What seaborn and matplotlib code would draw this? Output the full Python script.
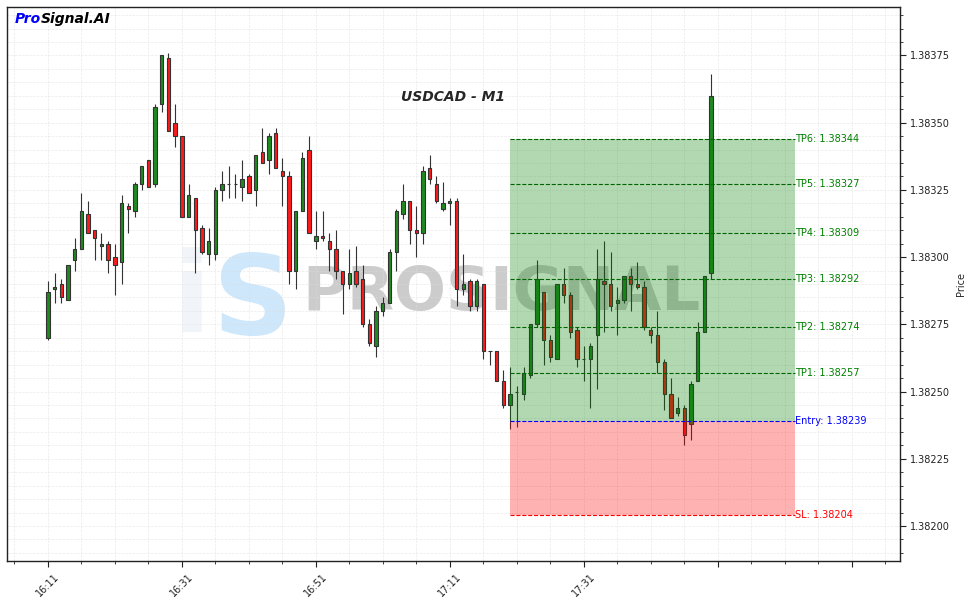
import numpy as np
import pandas as pd
import matplotlib
matplotlib.use('Agg')
import matplotlib.pyplot as plt
from matplotlib.ticker import MultipleLocator, FuncFormatter, FormatStrFormatter
import seaborn as sns

sns.set_style('white')
plt.rcParams['font.family'] = ['DejaVu Sans']

# ──────────────────────────────────────────────────────────────────────
# Data (USDCAD M1, 100 candles from 16:11)
# ──────────────────────────────────────────────────────────────────────

start_time = '16:11'

opens = [
    1.38270, 1.38288, 1.38290, 1.38284, 1.38299, 1.38303, 1.38316, 1.38310, 1.38304, 1.38305,
    1.38300, 1.38298, 1.38319, 1.38317, 1.38327, 1.38336, 1.38327, 1.38357, 1.38374, 1.38350,
    1.38345, 1.38315, 1.38322, 1.38311, 1.38301, 1.38301, 1.38325, 1.38327, 1.38327, 1.38326,
    1.38330, 1.38325, 1.38339, 1.38336, 1.38346, 1.38332, 1.38330, 1.38295, 1.38317, 1.38340,
    1.38306, 1.38308, 1.38306, 1.38303, 1.38295, 1.38290, 1.38295, 1.38292, 1.38275, 1.38267,
    1.38280, 1.38283, 1.38302, 1.38316, 1.38321, 1.38310, 1.38309, 1.38333, 1.38327, 1.38318,
    1.38320, 1.38321, 1.38288, 1.38291, 1.38282, 1.38290, 1.38265, 1.38265, 1.38254, 1.38245,
    1.38250, 1.38249, 1.38256, 1.38275, 1.38287, 1.38269, 1.38262, 1.38290, 1.38286, 1.38273,
    1.38262, 1.38262, 1.38271, 1.38291, 1.38290, 1.38283, 1.38284, 1.38293, 1.38290, 1.38289,
    1.38273, 1.38271, 1.38261, 1.38249, 1.38242, 1.38244, 1.38238, 1.38254, 1.38272, 1.38294,
]
highs = [
    1.38291, 1.38294, 1.38292, 1.38297, 1.38307, 1.38324, 1.38321, 1.38310, 1.38309, 1.38306,
    1.38305, 1.38323, 1.38320, 1.38328, 1.38334, 1.38336, 1.38357, 1.38375, 1.38376, 1.38357,
    1.38345, 1.38327, 1.38322, 1.38312, 1.38311, 1.38326, 1.38332, 1.38334, 1.38331, 1.38336,
    1.38331, 1.38338, 1.38348, 1.38346, 1.38348, 1.38337, 1.38332, 1.38317, 1.38339, 1.38345,
    1.38317, 1.38317, 1.38309, 1.38310, 1.38295, 1.38303, 1.38304, 1.38297, 1.38277, 1.38282,
    1.38285, 1.38303, 1.38318, 1.38327, 1.38321, 1.38319, 1.38334, 1.38338, 1.38330, 1.38328,
    1.38322, 1.38322, 1.38301, 1.38292, 1.38292, 1.38290, 1.38265, 1.38265, 1.38258, 1.38259,
    1.38252, 1.38259, 1.38275, 1.38299, 1.38287, 1.38271, 1.38290, 1.38296, 1.38287, 1.38274,
    1.38267, 1.38268, 1.38303, 1.38306, 1.38302, 1.38289, 1.38293, 1.38296, 1.38298, 1.38291,
    1.38274, 1.38280, 1.38262, 1.38255, 1.38248, 1.38245, 1.38254, 1.38276, 1.38293, 1.38368,
]
lows = [
    1.38269, 1.38283, 1.38283, 1.38284, 1.38295, 1.38303, 1.38309, 1.38299, 1.38299, 1.38294,
    1.38286, 1.38290, 1.38309, 1.38315, 1.38325, 1.38326, 1.38326, 1.38354, 1.38347, 1.38341,
    1.38315, 1.38315, 1.38294, 1.38301, 1.38297, 1.38299, 1.38321, 1.38322, 1.38322, 1.38321,
    1.38324, 1.38319, 1.38335, 1.38331, 1.38333, 1.38319, 1.38290, 1.38288, 1.38317, 1.38309,
    1.38303, 1.38306, 1.38295, 1.38292, 1.38279, 1.38288, 1.38289, 1.38274, 1.38267, 1.38263,
    1.38278, 1.38283, 1.38295, 1.38314, 1.38305, 1.38300, 1.38305, 1.38327, 1.38320, 1.38317,
    1.38312, 1.38282, 1.38286, 1.38280, 1.38280, 1.38262, 1.38260, 1.38254, 1.38244, 1.38236,
    1.38237, 1.38247, 1.38255, 1.38274, 1.38260, 1.38261, 1.38262, 1.38283, 1.38270, 1.38259,
    1.38254, 1.38244, 1.38251, 1.38272, 1.38280, 1.38271, 1.38283, 1.38280, 1.38288, 1.38273,
    1.38268, 1.38257, 1.38243, 1.38240, 1.38241, 1.38230, 1.38232, 1.38254, 1.38272, 1.38292,
]
closes = [
    1.38287, 1.38289, 1.38285, 1.38297, 1.38303, 1.38317, 1.38309, 1.38307, 1.38305, 1.38299,
    1.38297, 1.38320, 1.38318, 1.38327, 1.38334, 1.38326, 1.38356, 1.38375, 1.38347, 1.38345,
    1.38315, 1.38323, 1.38310, 1.38302, 1.38306, 1.38325, 1.38327, 1.38327, 1.38327, 1.38329,
    1.38324, 1.38338, 1.38335, 1.38345, 1.38333, 1.38330, 1.38295, 1.38317, 1.38337, 1.38309,
    1.38308, 1.38307, 1.38303, 1.38295, 1.38290, 1.38294, 1.38290, 1.38275, 1.38268, 1.38280,
    1.38283, 1.38302, 1.38317, 1.38321, 1.38310, 1.38309, 1.38332, 1.38329, 1.38321, 1.38320,
    1.38321, 1.38288, 1.38290, 1.38282, 1.38291, 1.38265, 1.38265, 1.38254, 1.38245, 1.38249,
    1.38250, 1.38257, 1.38275, 1.38292, 1.38269, 1.38263, 1.38290, 1.38286, 1.38272, 1.38262,
    1.38262, 1.38267, 1.38292, 1.38290, 1.38282, 1.38284, 1.38293, 1.38290, 1.38289, 1.38274,
    1.38271, 1.38261, 1.38249, 1.38240, 1.38244, 1.38234, 1.38253, 1.38272, 1.38293, 1.38360,
]

entry_price = 1.38239
sl_price = 1.38204
tp_names = ['TP1', 'TP2', 'TP3', 'TP4', 'TP5', 'TP6']
tp_prices = [1.38257, 1.38274, 1.38292, 1.38309, 1.38327, 1.38344]

symbol = 'USDCAD'
timeframe = 'M1'

# ──────────────────────────────────────────────────────────────────────
# Frame
# ──────────────────────────────────────────────────────────────────────

df = pd.DataFrame({'open': opens, 'high': highs, 'low': lows, 'close': closes})
df['time'] = pd.date_range(f'2024-01-01 {start_time}', periods=len(df), freq='min')
df['idx'] = np.arange(len(df))
df['up'] = df['close'] >= df['open']

zone_start = 69        # candle index where the signal box starts
zone_end = 111.6       # box extends into the empty space on the right

# ──────────────────────────────────────────────────────────────────────
# Plot
# ──────────────────────────────────────────────────────────────────────

fig = plt.figure(figsize=(9.69, 6.03), dpi=100)
ax = fig.add_axes([7 / 969, 42 / 603, 893 / 969, 554 / 603])

wick_color = '#333333'
ax.vlines(df['idx'], df['low'], df['high'], colors=wick_color, linewidth=0.8, zorder=2)
body_colors = np.where(df['up'], '#1f8a1f', '#ff1a1a')
ax.bar(df['idx'], df['close'] - df['open'], bottom=df['open'], width=0.5,
       color=body_colors, edgecolor=wick_color, linewidth=0.8, zorder=2.5)

# profit / loss zones (drawn over candles, semi transparent)
ax.fill_between([zone_start, zone_end], entry_price, max(tp_prices),
                color='green', alpha=0.3, linewidth=0, zorder=3)
ax.fill_between([zone_start, zone_end], sl_price, entry_price,
                color='red', alpha=0.3, linewidth=0, zorder=3)

for name, price in zip(tp_names, tp_prices):
    ax.hlines(price, zone_start, zone_end, colors='darkgreen', linestyles='--',
              linewidth=0.8, zorder=4)
    ax.text(zone_end, price, f'{name}: {price:.5f}', color='green', fontsize=7,
            ha='left', va='center', zorder=5)

ax.hlines(entry_price, zone_start, zone_end, colors='blue', linestyles='--',
          linewidth=0.8, zorder=4)
ax.text(zone_end, entry_price, f'Entry: {entry_price:.5f}', color='blue', fontsize=7,
        ha='left', va='center', zorder=5)
ax.hlines(sl_price, zone_start, zone_end, colors='red', linestyles='--',
          linewidth=0.8, zorder=4)
ax.text(zone_end, sl_price, f'SL: {sl_price:.5f}', color='red', fontsize=7,
        ha='left', va='center', zorder=5)

# watermark (logo mark + name)
ax.text(0.207, 0.47, 'i', transform=ax.transAxes, fontsize=80, fontweight='bold',
        color='#eef3f8', alpha=0.8, ha='center', va='center', zorder=0.4)
ax.text(0.2755, 0.465, 'S', transform=ax.transAxes, fontsize=80, fontweight='bold',
        color='#c2e1fa', alpha=0.8, ha='center', va='center', zorder=0.5)
ax.text(0.554, 0.482, 'PROSIGNAL', transform=ax.transAxes, fontsize=44,
        fontweight='bold', color='gray', alpha=0.4, ha='center', va='center', zorder=0.5)

# titles / branding
ax.text(0.4995, 0.8375, f'{symbol} - {timeframe}', transform=ax.transAxes, fontsize=10,
        fontweight='bold', fontstyle='italic', ha='center', va='center', zorder=6)
t_pro = ax.text(0.009, 0.978, 'Pro', transform=ax.transAxes, fontsize=10,
                fontweight='bold', fontstyle='italic', color='blue', ha='left',
                va='center', zorder=6)
ax.annotate('Signal.AI', xy=(1, 0), xycoords=t_pro, fontsize=10, fontweight='bold',
            fontstyle='italic', color='black', ha='left', va='bottom', zorder=6)

# axes
ax.set_xlim(-6.1, 127.2)
ax.set_ylim(1.38187, 1.38393)

ax.yaxis.tick_right()
ax.yaxis.set_label_position('right')
ax.set_ylabel('Price', fontsize=7)
ax.yaxis.set_major_locator(MultipleLocator(0.00025))
ax.yaxis.set_minor_locator(MultipleLocator(0.00005))
ax.yaxis.set_major_formatter(FormatStrFormatter('%.5f'))

times = df['time'].dt.strftime('%H:%M').tolist()


def fmt_time(x, pos):
    i = int(round(x))
    return times[i] if 0 <= i < len(times) else ''


ax.xaxis.set_major_locator(MultipleLocator(20))
ax.xaxis.set_minor_locator(MultipleLocator(5))
ax.xaxis.set_major_formatter(FuncFormatter(fmt_time))
plt.setp(ax.get_xticklabels(), rotation=45, ha='center')

ax.tick_params(axis='both', which='major', labelsize=7, length=4, width=0.8,
               direction='out', colors='#222222')
ax.tick_params(axis='both', which='minor', length=2, width=0.6, direction='out',
               colors='#222222')
ax.tick_params(axis='y', which='both', left=False, right=True)
ax.tick_params(axis='x', which='both', bottom=True)

ax.grid(which='both', linestyle='--', linewidth=0.5, color='#dddddd', alpha=0.6, zorder=0)
ax.set_axisbelow(True)
for sp in ax.spines.values():
    sp.set_color('#222222')
    sp.set_linewidth(1.0)

fig.savefig('out.png', dpi=100, facecolor='white')
plt.close(fig)
